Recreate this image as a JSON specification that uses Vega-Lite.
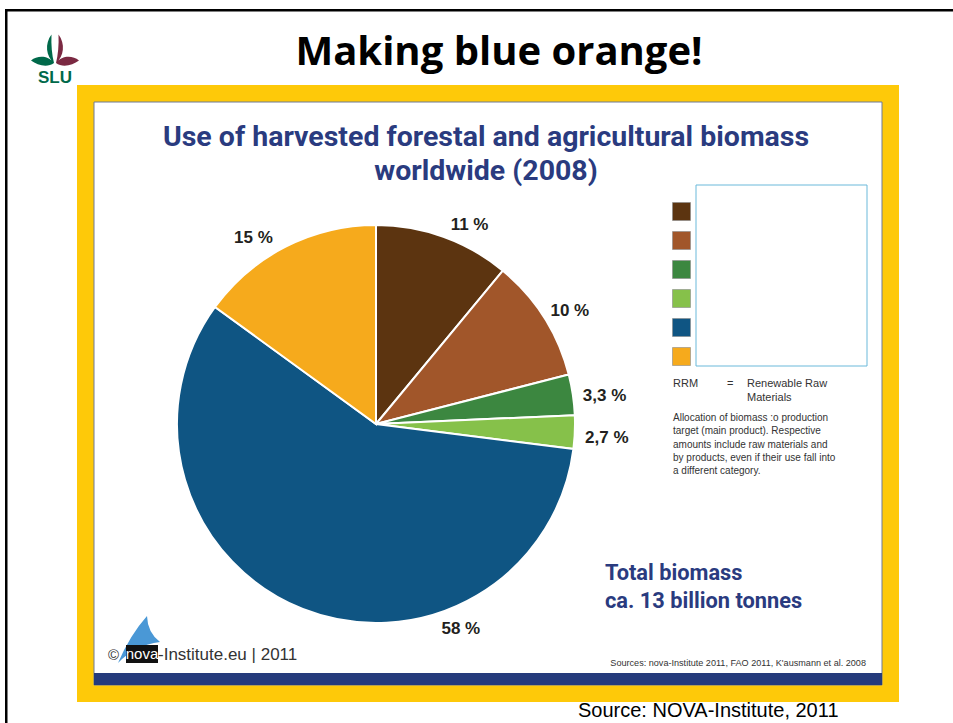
{
  "$schema": "https://vega.github.io/schema/vega-lite/v6.json",
  "width": 953,
  "height": 723,
  "padding": 0,
  "autosize": {"type": "fit", "contains": "padding"},
  "background": "white",
  "config": {"view": {"stroke": null}},
  "datasets": {
    "biomass": [
      {"category": "Wood: material use", "value": 11, "label": "11 %", "order": 1},
      {"category": "Wood: energy use", "value": 10, "label": "10 %", "order": 2},
      {"category": "Agricultural RRM: material use", "value": 3.3, "label": "3,3 %", "order": 3},
      {"category": "Agricultural RRM: energy use", "value": 2.7, "label": "2,7 %", "order": 4},
      {"category": "Animal feed", "value": 58, "label": "58 %", "order": 5},
      {"category": "Food", "value": 15, "label": "15 %", "order": 6}
    ],
    "one": [{}]
  },
  "layer": [
    {"data": {"name": "one"}, "mark": {"type": "rect", "x": 5, "x2": 953, "y": 9, "y2": 11.5, "fill": "black"}},
    {"data": {"name": "one"}, "mark": {"type": "rect", "x": 5, "x2": 7.5, "y": 9, "y2": 723, "fill": "black"}},
    {"data": {"name": "one"}, "mark": {"type": "rect", "x": 85.5, "x2": 890.5, "y": 93.5, "y2": 693.5, "fill": "white", "stroke": "#FEC909", "strokeWidth": 17}},
    {"data": {"name": "one"}, "mark": {"type": "rect", "x": 94, "x2": 882, "y": 102, "y2": 685, "fill": null, "stroke": "#6F7A96", "strokeWidth": 1}},
    {"data": {"name": "one"}, "mark": {"type": "rect", "x": 94, "x2": 882, "y": 673, "y2": 685, "fill": "#253B7C"}},
    {"data": {"name": "one"}, "mark": {"type": "point", "x": 55, "y": 50, "size": 2500, "filled": true, "opacity": 1, "fill": "#00694A", "strokeWidth": 0, "shape": "M -0.14 -0.62 C -0.42 -0.25 -0.36 0.25 -0.04 0.52 C -0.12 0.2 -0.16 -0.2 -0.14 -0.62 Z M -0.04 0.52 C -0.3 0.2 -0.7 0.22 -0.96 0.42 C -0.7 0.62 -0.3 0.72 -0.04 0.52 Z"}},
    {"data": {"name": "one"}, "mark": {"type": "point", "x": 55, "y": 50, "size": 2500, "filled": true, "opacity": 1, "fill": "#7B2942", "strokeWidth": 0, "shape": "M 0.14 -0.62 C 0.42 -0.25 0.36 0.25 0.04 0.52 C 0.12 0.2 0.16 -0.2 0.14 -0.62 Z M 0.04 0.52 C 0.3 0.2 0.7 0.22 0.96 0.42 C 0.7 0.62 0.3 0.72 0.04 0.52 Z"}},
    {"data": {"name": "one"}, "mark": {"type": "text", "text": "SLU", "x": 55, "y": 83, "align": "center", "baseline": "alphabetic", "font": "Liberation Sans", "fontWeight": "bold", "fontSize": 17, "fill": "#00694A"}},
    {"data": {"name": "one"}, "mark": {"type": "text", "text": "Making blue orange!", "x": 499, "y": 65, "align": "center", "baseline": "alphabetic", "font": "Open Sans", "fontWeight": "bold", "fontSize": 40, "fill": "black"}},
    {"data": {"name": "one"}, "mark": {"type": "text", "text": "Use of harvested forestal and agricultural biomass", "x": 486, "y": 146, "align": "center", "baseline": "alphabetic", "font": "Roboto", "fontWeight": "bold", "fontSize": 28.5, "fill": "#2A3B7F"}},
    {"data": {"name": "one"}, "mark": {"type": "text", "text": "worldwide (2008)", "x": 486, "y": 180, "align": "center", "baseline": "alphabetic", "font": "Roboto", "fontWeight": "bold", "fontSize": 28.5, "fill": "#2A3B7F"}},
    {
      "data": {"name": "biomass"},
      "mark": {"type": "arc", "x": 376, "y": 424, "outerRadius": 199, "stroke": "white", "strokeWidth": 2},
      "encoding": {
        "theta": {"field": "value", "type": "quantitative", "stack": true},
        "order": {"field": "order", "type": "quantitative"},
        "color": {
          "field": "category",
          "type": "nominal",
          "sort": ["Wood: material use", "Wood: energy use", "Agricultural RRM: material use", "Agricultural RRM: energy use", "Animal feed", "Food"],
          "scale": {
            "domain": ["Wood: material use", "Wood: energy use", "Agricultural RRM: material use", "Agricultural RRM: energy use", "Animal feed", "Food"],
            "range": ["#5C3410", "#A1562A", "#3C8740", "#86C14A", "#0F5583", "#F6AA1C"]
          },
          "legend": {
            "orient": "none", "legendX": 672, "legendY": 202, "title": null,
            "symbolType": "square", "symbolSize": 324, "symbolStrokeColor": "#8A8A8A", "symbolStrokeWidth": 0.6,
            "labelExpr": "''", "rowPadding": 8, "padding": 0, "symbolOffset": 0, "offset": 0, "direction": "vertical"
          }
        }
      }
    },
    {
      "data": {"name": "biomass"},
      "mark": {"type": "text", "x": 376, "y": 424, "radius": 226, "font": "Liberation Sans", "fontWeight": "bold", "fontSize": 17, "fill": "#231F20", "align": "center", "baseline": "middle",
        "dx": {"expr": "[0,17,3,5,5,168,-20][datum.order]"},
        "dy": {"expr": "[0,14,8,5,5,-5,15][datum.order]"}},
      "encoding": {
        "theta": {"field": "value", "type": "quantitative", "stack": true},
        "order": {"field": "order", "type": "quantitative"},
        "text": {"field": "label", "type": "nominal"}
      }
    },
    {"data": {"name": "one"}, "mark": {"type": "rect", "x": 696, "x2": 867, "y": 185, "y2": 366, "fill": "white", "stroke": "#6BB9DA", "strokeWidth": 1}},
    {"data": {"name": "one"}, "mark": {"type": "text", "text": "RRM", "x": 673, "y": 387, "align": "left", "baseline": "alphabetic", "font": "Liberation Sans", "fontSize": 11, "fill": "#333333"}},
    {"data": {"name": "one"}, "mark": {"type": "text", "text": "=", "x": 727, "y": 387, "align": "left", "baseline": "alphabetic", "font": "Liberation Sans", "fontSize": 11, "fill": "#333333"}},
    {"data": {"name": "one"}, "mark": {"type": "text", "text": ["Renewable Raw", "Materials"], "x": 747, "y": 387, "lineHeight": 14, "align": "left", "baseline": "alphabetic", "font": "Liberation Sans", "fontSize": 11, "fill": "#333333"}},
    {"data": {"name": "one"}, "mark": {"type": "text", "text": ["Allocation of biomass :o production", "target (main product). Respective", "amounts include raw materials and", "by products, even if their use fall into", "a different category."], "x": 673, "y": 421, "lineHeight": 13.3, "align": "left", "baseline": "alphabetic", "font": "Liberation Sans", "fontSize": 10, "fill": "#333333"}},
    {"data": {"name": "one"}, "mark": {"type": "text", "text": ["Total biomass", "ca. 13 billion tonnes"], "x": 605, "y": 580, "lineHeight": 28, "align": "left", "baseline": "alphabetic", "font": "Roboto", "fontWeight": "bold", "fontSize": 21.8, "fill": "#2A3B7F"}},
    {"data": {"name": "one"}, "mark": {"type": "text", "text": "©", "x": 108, "y": 660, "align": "left", "baseline": "alphabetic", "font": "Liberation Sans", "fontSize": 15, "fill": "#333333"}},
    {"data": {"name": "one"}, "mark": {"type": "point", "x": 140, "y": 640, "size": 2500, "filled": true, "opacity": 1, "fill": "#4A98D6", "strokeWidth": 0, "shape": "M -0.88 0.92 Q -0.4 -0.2 0.28 -0.96 Q 0.3 -0.3 0.8 0.08 Q -0.2 0.2 -0.88 0.92 Z"}},
    {"data": {"name": "one"}, "mark": {"type": "rect", "x": 126, "x2": 158, "y": 645, "y2": 663, "fill": "#111111"}},
    {"data": {"name": "one"}, "mark": {"type": "text", "text": "nova", "x": 142, "y": 659, "align": "center", "baseline": "alphabetic", "font": "Liberation Sans", "fontSize": 15, "fill": "white"}},
    {"data": {"name": "one"}, "mark": {"type": "text", "text": "-Institute.eu | 2011", "x": 158, "y": 660, "align": "left", "baseline": "alphabetic", "font": "Liberation Sans", "fontSize": 17, "fill": "#333333"}},
    {"data": {"name": "one"}, "mark": {"type": "text", "text": "Sources: nova-Institute 2011, FAO 2011, K'ausmann et al. 2008", "x": 866, "y": 666, "align": "right", "baseline": "alphabetic", "font": "Liberation Sans", "fontSize": 9.1, "fill": "#333333"}},
    {"data": {"name": "one"}, "mark": {"type": "text", "text": "Source: NOVA-Institute, 2011", "x": 578, "y": 717, "align": "left", "baseline": "alphabetic", "font": "Liberation Sans", "fontSize": 20, "fill": "black"}}
  ]
}
